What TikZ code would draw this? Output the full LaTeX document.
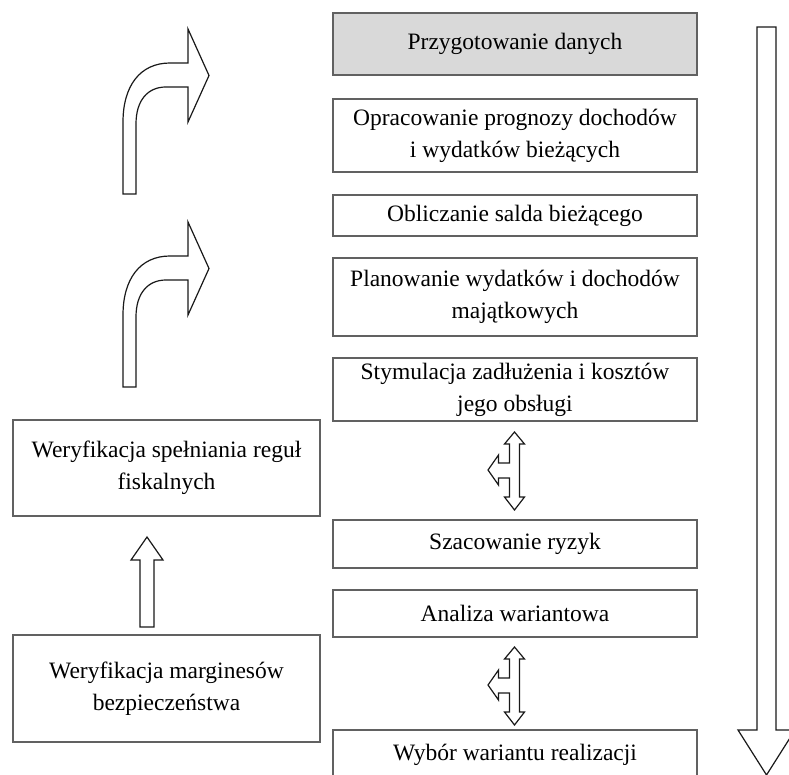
\documentclass[tikz,border=0pt]{standalone}
\usepackage{fontspec}
\setmainfont{Liberation Serif}
\usepackage{tikz}
\usetikzlibrary{arrows}

\begin{document}
\begin{tikzpicture}[x=1pt, y=-1pt, % pixel units, y going down
	font=\fontsize{23.5}{32}\selectfont, % text size
	box/.style={rectangle,draw=black!62,line width=1.8pt,fill=white,
		inner sep=0pt,align=center,minimum width=364pt}, % steps on the right
	lbox/.style={box,minimum width=307pt}, % checks on the left
	blockarrow/.style={draw=black!90,line width=1.2pt,fill=white,line join=miter}]
	\useasboundingbox (0,0) rectangle (789,775);

	% steps
	\node[box,fill=black!15,minimum height=62pt] (prep) at (515,44) {Przygotowanie danych};
	\node[box,minimum height=73pt] (prog) at (515,135.5) {Opracowanie prognozy dochodów\\ i wydatków bieżących};
	\node[box,minimum height=41pt] (saldo) at (515,215.5) {Obliczanie salda bieżącego};
	\node[box,minimum height=78pt] (plan) at (515,297) {Planowanie wydatków i dochodów\\ majątkowych};
	\node[box,minimum height=63pt] (stym) at (515,389.5) {Stymulacja zadłużenia i kosztów\\ jego obsługi};
	\node[box,minimum height=48pt] (ryz) at (515,544) {Szacowanie ryzyk};
	\node[box,minimum height=47pt] (anal) at (515,613.5) {Analiza wariantowa};
	\node[box,minimum height=50pt] (wyb) at (515,755) {Wybór wariantu realizacji};

	% checks
	\node[lbox,minimum height=96pt] (reg) at (166.5,468) {Weryfikacja spełniania reguł\\ fiskalnych};
	\node[lbox,minimum height=107pt] (marg) at (166.5,688.5) {Weryfikacja marginesów\\ bezpieczeństwa};

	% three-way arrows
	\foreach \dy in {0,215} {
	\begin{scope}[shift={(0,\dy)}]
		\draw[blockarrow] (514.5,432) -- (524.5,444) -- (519.5,444) -- (519.5,497) -- (524.5,497)
			-- (514.5,510) -- (504.5,497) -- (509.5,497) -- (509.5,478) -- (498.5,478) -- (498.5,485)
			-- (488,470) -- (498.5,455) -- (498.5,463) -- (509.5,463) -- (509.5,444) -- (504.5,444) -- cycle;
	\end{scope}
	}

	% curved arrows
	\foreach \dy in {0,193} {
	\begin{scope}[shift={(0,\dy)}]
		\draw[blockarrow] (123,194) -- (123,122) .. controls (123,86) and (140,63) .. (170,63) -- (188,63)
			-- (188,29) -- (209,75.5) -- (188,122) -- (188,87) -- (166,87)
			.. controls (148,87) and (136,100) .. (136,124) -- (136,194) -- cycle;
	\end{scope}
	}

	% up arrow between checks
	\draw[blockarrow] (147,537) -- (163,560) -- (154,560) -- (154,627) -- (140,627) -- (140,560) -- (131,560) -- cycle;

	% big down arrow
	\draw[blockarrow] (757,27) -- (776,27) -- (776,730) -- (795,730) -- (766.5,775) -- (738,730) -- (757,730) -- cycle;

\end{tikzpicture}
\end{document}
